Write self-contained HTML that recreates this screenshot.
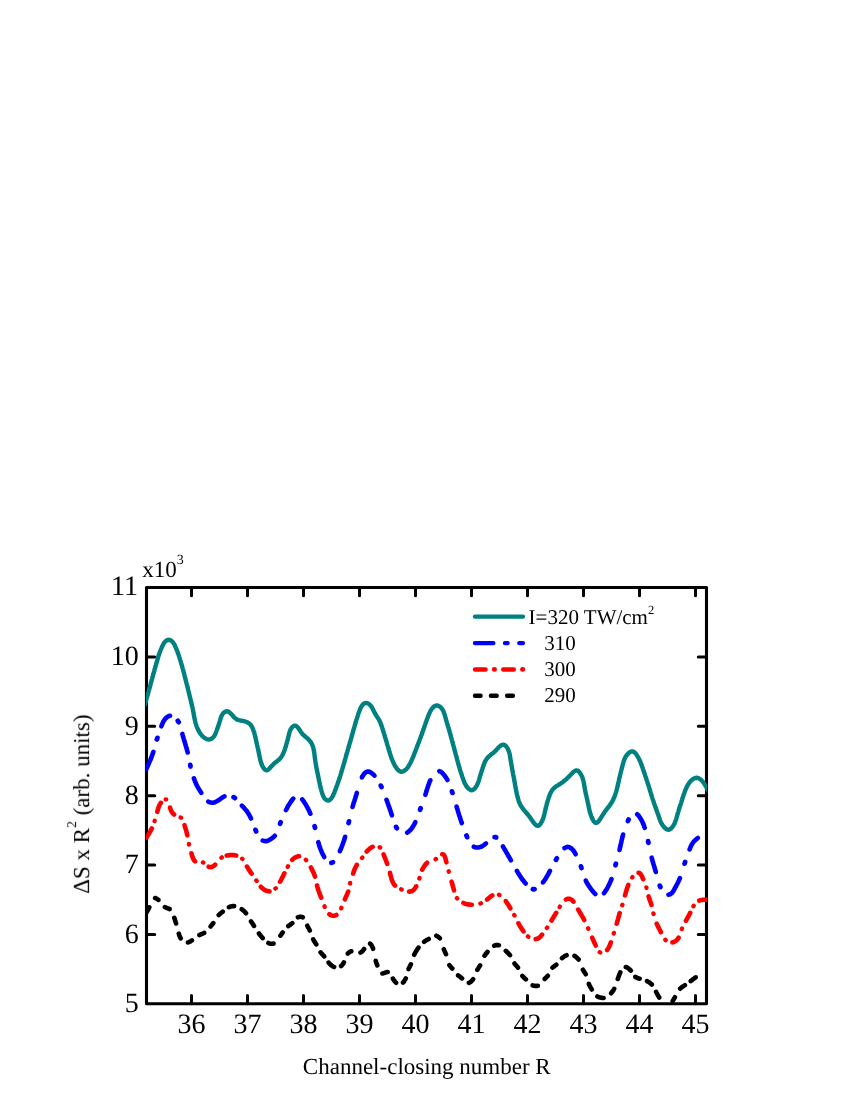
<!DOCTYPE html>
<html><head><meta charset="utf-8"><title>Figure</title>
<style>
html,body{margin:0;padding:0;background:#fff;}
svg{display:block;}
text{font-family:"Liberation Serif",serif;fill:#000;text-rendering:geometricPrecision;}
.txt{opacity:0.999;}
.tk{font-size:28px;}
.ti{font-size:23px;}
.lg{font-size:21px;}
</style></head><body>
<svg width="850" height="1100" viewBox="0 0 850 1100">
<rect x="0" y="0" width="850" height="1100" fill="#ffffff"/>
<defs><clipPath id="cp"><rect x="145.8" y="587.5" width="561.4" height="416.3"/></clipPath></defs>
<path d="M191.5,1003.8v-8.2M191.5,587.5v8.2M247.5,1003.8v-8.2M247.5,587.5v8.2M303.5,1003.8v-8.2M303.5,587.5v8.2M359.5,1003.8v-8.2M359.5,587.5v8.2M415.5,1003.8v-8.2M415.5,587.5v8.2M471.5,1003.8v-8.2M471.5,587.5v8.2M527.5,1003.8v-8.2M527.5,587.5v8.2M583.5,1003.8v-8.2M583.5,587.5v8.2M639.5,1003.8v-8.2M639.5,587.5v8.2M695.5,1003.8v-8.2M695.5,587.5v8.2M146.5,934.42h8.2M706.5,934.42h-8.2M146.5,865.03h8.2M706.5,865.03h-8.2M146.5,795.65h8.2M706.5,795.65h-8.2M146.5,726.27h8.2M706.5,726.27h-8.2M146.5,656.88h8.2M706.5,656.88h-8.2" stroke="#000" stroke-width="3" stroke-linecap="round" fill="none"/>
<rect x="146.5" y="587.5" width="560.0" height="416.3" fill="none" stroke="#000" stroke-width="3.1" stroke-linejoin="round"/>
<g clip-path="url(#cp)" fill="none" stroke-linejoin="round">
<path d="M144.5,705.8L144.8,704.8L145.1,703.9L145.3,702.9L145.6,702.0L145.9,701.0L146.2,700.0L146.4,699.1L146.7,698.1L147.0,697.2L147.3,696.2L147.5,695.2L147.8,694.3L148.1,693.3L148.4,692.3L148.6,691.4L148.9,690.4L149.2,689.4L149.4,688.5L149.7,687.5L150.0,686.6L150.2,685.6L150.5,684.6L150.7,683.7L151.0,682.7L151.3,681.7L151.5,680.8L151.8,679.8L152.1,678.8L152.3,677.9L152.6,676.9L152.9,675.9L153.1,675.0L153.4,674.0L153.6,673.1L153.9,672.1L154.2,671.1L154.4,670.2L154.7,669.2L155.0,668.2L155.3,667.3L155.5,666.3L155.8,665.4L156.1,664.4L156.4,663.4L156.6,662.5L156.9,661.5L157.2,660.5L157.5,659.6L157.7,658.6L158.0,657.7L158.3,656.7L158.6,655.7L158.9,654.8L159.2,653.9L159.6,652.9L159.9,652.0L160.3,651.0L160.6,650.1L161.0,649.2L161.4,648.3L161.8,647.3L162.2,646.4L162.7,645.5L163.1,644.6L163.6,643.7L164.2,642.8L164.8,642.0L165.5,641.3L166.3,640.7L167.1,640.2L168.0,639.9L168.9,639.8L169.8,640.0L170.7,640.3L171.5,640.9L172.3,641.5L172.9,642.3L173.5,643.1L174.1,644.0L174.6,644.9L175.0,645.8L175.4,646.8L175.8,647.7L176.2,648.6L176.6,649.5L177.0,650.5L177.3,651.4L177.7,652.3L178.0,653.3L178.4,654.2L178.7,655.2L179.0,656.1L179.3,657.1L179.6,658.0L179.9,659.0L180.2,659.9L180.5,660.9L180.8,661.8L181.0,662.8L181.3,663.8L181.6,664.7L181.9,665.7L182.2,666.7L182.4,667.6L182.7,668.6L183.0,669.5L183.2,670.5L183.5,671.5L183.8,672.4L184.0,673.4L184.3,674.4L184.5,675.3L184.7,676.3L185.0,677.3L185.2,678.2L185.5,679.2L185.7,680.2L186.0,681.2L186.2,682.1L186.5,683.1L186.7,684.1L187.0,685.0L187.2,686.0L187.5,687.0L187.7,687.9L188.0,688.9L188.2,689.9L188.4,690.8L188.7,691.8L188.9,692.8L189.1,693.8L189.4,694.7L189.6,695.7L189.8,696.7L190.1,697.7L190.3,698.6L190.5,699.6L190.8,700.6L191.0,701.5L191.2,702.5L191.5,703.5L191.7,704.5L191.9,705.4L192.2,706.4L192.4,707.4L192.6,708.4L192.8,709.3L193.0,710.3L193.2,711.3L193.4,712.3L193.5,713.3L193.7,714.3L193.9,715.2L194.1,716.2L194.3,717.2L194.5,718.2L194.7,719.2L194.9,720.1L195.1,721.1L195.3,722.1L195.6,723.1L195.9,724.0L196.2,725.0L196.5,725.9L196.8,726.9L197.2,727.8L197.6,728.7L198.0,729.6L198.5,730.5L198.9,731.4L199.4,732.3L200.0,733.1L200.6,734.0L201.2,734.8L201.9,735.5L202.6,736.3L203.3,737.0L204.1,737.6L205.0,738.2L205.9,738.7L206.8,739.2L207.7,739.4L208.7,739.5L209.6,739.5L210.5,739.2L211.4,738.8L212.3,738.2L213.0,737.5L213.7,736.8L214.3,736.0L214.8,735.1L215.2,734.2L215.6,733.3L216.0,732.3L216.4,731.3L216.7,730.4L217.0,729.4L217.4,728.5L217.7,727.6L218.1,726.6L218.4,725.7L218.7,724.7L219.0,723.8L219.3,722.8L219.6,721.8L219.9,720.9L220.2,719.9L220.5,718.9L220.8,717.9L221.1,716.9L221.5,716.0L222.0,715.1L222.5,714.2L223.1,713.4L223.8,712.7L224.6,712.1L225.4,711.6L226.3,711.3L227.2,711.3L228.0,711.5L228.9,712.0L229.7,712.6L230.5,713.3L231.2,714.0L231.9,714.8L232.6,715.6L233.3,716.3L233.9,717.1L234.7,717.8L235.4,718.4L236.2,719.0L237.1,719.5L238.0,719.9L238.9,720.2L239.9,720.4L240.9,720.6L241.9,720.7L242.9,720.9L243.9,721.1L244.8,721.4L245.8,721.7L246.7,722.1L247.6,722.5L248.5,723.0L249.3,723.6L250.0,724.2L250.7,724.9L251.3,725.7L251.8,726.6L252.3,727.5L252.7,728.4L253.1,729.3L253.4,730.3L253.7,731.3L254.1,732.2L254.3,733.2L254.6,734.2L254.9,735.1L255.1,736.1L255.3,737.1L255.6,738.1L255.8,739.0L256.0,740.0L256.2,741.0L256.4,742.0L256.6,742.9L256.8,743.9L257.1,744.9L257.3,745.9L257.5,746.8L257.7,747.8L258.0,748.8L258.2,749.8L258.4,750.7L258.6,751.7L258.8,752.7L259.0,753.7L259.2,754.6L259.4,755.6L259.6,756.6L259.8,757.6L260.0,758.5L260.2,759.5L260.4,760.5L260.7,761.4L261.0,762.4L261.3,763.4L261.7,764.4L262.1,765.4L262.6,766.4L263.2,767.3L263.8,768.3L264.4,769.1L265.1,769.7L265.8,770.1L266.6,770.3L267.3,770.1L268.1,769.7L268.8,769.1L269.6,768.3L270.3,767.5L271.0,766.7L271.8,765.9L272.5,765.2L273.2,764.5L273.9,763.7L274.6,763.1L275.4,762.4L276.2,761.8L277.0,761.3L277.8,760.6L278.6,760.0L279.3,759.4L280.0,758.6L280.6,757.9L281.2,757.1L281.8,756.2L282.3,755.4L282.7,754.5L283.2,753.6L283.6,752.6L284.0,751.7L284.3,750.8L284.7,749.8L285.0,748.9L285.3,747.9L285.6,747.0L285.9,746.0L286.2,745.1L286.4,744.1L286.7,743.2L287.0,742.2L287.2,741.3L287.5,740.3L287.7,739.3L288.0,738.4L288.2,737.4L288.5,736.4L288.7,735.4L289.0,734.4L289.2,733.3L289.5,732.3L289.8,731.3L290.2,730.4L290.6,729.4L291.1,728.6L291.7,727.8L292.4,727.0L293.1,726.4L293.9,725.9L294.7,725.7L295.6,725.7L296.3,726.1L297.1,726.6L297.8,727.4L298.4,728.2L299.0,729.1L299.6,729.9L300.2,730.8L300.7,731.7L301.3,732.5L301.9,733.3L302.5,734.1L303.2,734.8L303.9,735.5L304.7,736.1L305.5,736.8L306.2,737.4L307.0,738.1L307.8,738.7L308.5,739.4L309.2,740.2L309.8,740.9L310.5,741.7L311.0,742.5L311.5,743.3L311.9,744.2L312.3,745.1L312.7,746.0L313.0,746.9L313.3,747.9L313.5,748.9L313.7,749.8L313.9,750.8L314.1,751.9L314.3,752.9L314.4,753.9L314.5,754.9L314.6,756.0L314.8,757.0L314.9,758.0L315.0,759.0L315.2,760.1L315.3,761.1L315.5,762.1L315.6,763.1L315.8,764.1L316.0,765.0L316.1,766.0L316.3,767.0L316.5,768.0L316.7,768.9L316.9,769.9L317.1,770.9L317.3,771.9L317.5,772.8L317.7,773.8L317.9,774.8L318.1,775.8L318.3,776.8L318.5,777.7L318.7,778.7L318.9,779.7L319.1,780.7L319.3,781.7L319.5,782.6L319.7,783.6L319.9,784.6L320.1,785.6L320.3,786.5L320.6,787.5L320.8,788.5L321.1,789.4L321.3,790.4L321.6,791.4L321.9,792.3L322.2,793.3L322.5,794.3L322.9,795.3L323.3,796.3L323.8,797.2L324.3,798.1L324.9,798.8L325.6,799.5L326.4,800.0L327.3,800.4L328.1,800.5L329.0,800.3L329.8,799.8L330.5,799.2L331.2,798.5L331.8,797.6L332.4,796.8L332.9,795.9L333.3,794.9L333.7,794.0L334.1,793.0L334.5,792.1L334.9,791.1L335.2,790.2L335.6,789.3L335.9,788.3L336.3,787.4L336.6,786.4L337.0,785.5L337.3,784.6L337.6,783.6L338.0,782.7L338.3,781.8L338.6,780.8L338.9,779.9L339.2,778.9L339.6,778.0L339.9,777.0L340.2,776.1L340.5,775.1L340.8,774.1L341.1,773.2L341.4,772.2L341.6,771.3L341.9,770.3L342.2,769.4L342.5,768.4L342.8,767.4L343.1,766.5L343.3,765.5L343.6,764.6L343.9,763.6L344.2,762.6L344.5,761.7L344.7,760.7L345.0,759.8L345.3,758.8L345.6,757.8L345.8,756.9L346.1,755.9L346.4,754.9L346.6,754.0L346.9,753.0L347.2,752.1L347.5,751.1L347.7,750.1L348.0,749.2L348.3,748.2L348.6,747.3L348.8,746.3L349.1,745.3L349.4,744.4L349.7,743.4L349.9,742.4L350.2,741.5L350.5,740.5L350.8,739.6L351.0,738.6L351.3,737.6L351.6,736.7L351.9,735.7L352.1,734.8L352.4,733.8L352.7,732.8L353.0,731.9L353.2,730.9L353.5,729.9L353.8,729.0L354.0,728.0L354.3,727.1L354.6,726.1L354.9,725.1L355.2,724.2L355.4,723.2L355.7,722.3L356.0,721.3L356.3,720.3L356.6,719.4L356.9,718.4L357.2,717.5L357.5,716.5L357.8,715.6L358.1,714.6L358.4,713.7L358.7,712.7L359.1,711.8L359.4,710.8L359.8,709.9L360.2,708.9L360.6,708.0L361.1,707.1L361.6,706.2L362.2,705.4L362.8,704.6L363.6,703.9L364.4,703.4L365.3,703.1L366.2,703.0L367.1,703.1L368.0,703.5L368.8,704.0L369.6,704.6L370.3,705.3L371.0,706.1L371.6,706.9L372.1,707.8L372.6,708.7L373.1,709.6L373.5,710.5L374.0,711.4L374.4,712.3L374.9,713.2L375.4,714.0L375.9,714.9L376.5,715.7L377.0,716.6L377.5,717.4L378.1,718.3L378.6,719.1L379.1,720.0L379.5,720.9L380.0,721.8L380.4,722.7L380.7,723.6L381.1,724.5L381.4,725.5L381.8,726.4L382.1,727.4L382.4,728.3L382.7,729.3L383.0,730.3L383.3,731.2L383.6,732.2L383.9,733.1L384.2,734.1L384.5,735.0L384.8,736.0L385.0,737.0L385.3,737.9L385.6,738.9L385.9,739.8L386.2,740.8L386.5,741.7L386.8,742.7L387.0,743.7L387.3,744.6L387.6,745.6L387.9,746.5L388.2,747.5L388.5,748.5L388.7,749.4L389.0,750.4L389.3,751.3L389.6,752.3L389.9,753.2L390.2,754.2L390.5,755.1L390.8,756.1L391.2,757.0L391.5,758.0L391.8,758.9L392.2,759.9L392.6,760.8L393.0,761.7L393.4,762.6L393.8,763.5L394.2,764.4L394.7,765.3L395.2,766.2L395.8,767.1L396.4,767.9L397.0,768.8L397.7,769.5L398.4,770.3L399.2,770.9L400.0,771.4L400.9,771.7L401.8,771.7L402.7,771.6L403.6,771.2L404.4,770.7L405.2,770.1L406.0,769.4L406.7,768.7L407.4,767.9L408.0,767.1L408.5,766.2L409.1,765.3L409.6,764.4L410.1,763.5L410.5,762.7L411.0,761.8L411.4,760.8L411.8,759.9L412.2,759.0L412.6,758.1L413.0,757.2L413.4,756.3L413.7,755.3L414.1,754.4L414.5,753.5L414.8,752.5L415.2,751.6L415.6,750.7L415.9,749.7L416.3,748.8L416.6,747.9L417.0,746.9L417.3,746.0L417.7,745.1L418.0,744.1L418.4,743.2L418.8,742.3L419.1,741.3L419.5,740.4L419.8,739.5L420.2,738.5L420.5,737.6L420.9,736.6L421.2,735.7L421.6,734.8L421.9,733.8L422.2,732.9L422.6,731.9L422.9,731.0L423.2,730.1L423.6,729.1L423.9,728.2L424.2,727.2L424.5,726.3L424.9,725.3L425.2,724.4L425.5,723.4L425.9,722.5L426.2,721.6L426.5,720.6L426.9,719.7L427.2,718.8L427.6,717.8L427.9,716.9L428.3,715.9L428.6,715.0L429.0,714.1L429.4,713.1L429.9,712.2L430.3,711.3L430.8,710.4L431.4,709.5L432.0,708.7L432.6,707.9L433.3,707.2L434.1,706.5L435.0,706.0L435.8,705.6L436.7,705.5L437.6,705.5L438.5,705.8L439.4,706.3L440.2,706.9L441.0,707.6L441.6,708.4L442.3,709.2L442.8,710.1L443.3,711.0L443.7,711.9L444.0,712.9L444.4,713.8L444.7,714.8L445.0,715.8L445.2,716.8L445.5,717.7L445.8,718.7L446.0,719.7L446.3,720.6L446.6,721.6L446.9,722.6L447.2,723.5L447.5,724.5L447.7,725.4L448.0,726.4L448.3,727.3L448.6,728.3L448.9,729.2L449.2,730.2L449.4,731.2L449.7,732.1L450.0,733.1L450.3,734.0L450.5,735.0L450.8,736.0L451.0,736.9L451.3,737.9L451.6,738.9L451.8,739.8L452.1,740.8L452.4,741.8L452.6,742.7L452.9,743.7L453.1,744.7L453.4,745.6L453.7,746.6L453.9,747.6L454.2,748.5L454.4,749.5L454.7,750.5L455.0,751.4L455.2,752.4L455.5,753.4L455.7,754.3L456.0,755.3L456.3,756.3L456.5,757.2L456.8,758.2L457.0,759.2L457.3,760.1L457.6,761.1L457.8,762.1L458.1,763.0L458.3,764.0L458.6,764.9L458.9,765.9L459.2,766.9L459.5,767.8L459.7,768.8L460.0,769.7L460.3,770.7L460.6,771.6L460.9,772.6L461.3,773.5L461.6,774.5L461.9,775.4L462.2,776.4L462.5,777.3L462.9,778.3L463.2,779.2L463.5,780.2L463.9,781.1L464.2,782.1L464.6,783.0L465.1,783.9L465.6,784.8L466.1,785.7L466.7,786.6L467.3,787.4L468.1,788.2L468.8,788.9L469.7,789.5L470.5,790.0L471.3,790.2L472.2,790.2L473.0,789.9L473.8,789.4L474.5,788.8L475.2,788.0L475.8,787.1L476.4,786.2L476.9,785.3L477.4,784.3L477.8,783.4L478.1,782.5L478.5,781.5L478.8,780.6L479.1,779.6L479.4,778.6L479.6,777.7L479.9,776.7L480.2,775.8L480.5,774.8L480.8,773.9L481.1,772.9L481.4,771.9L481.7,771.0L482.0,770.0L482.3,769.1L482.6,768.1L482.9,767.2L483.3,766.2L483.6,765.3L483.9,764.3L484.3,763.4L484.7,762.4L485.1,761.5L485.6,760.7L486.1,759.8L486.6,759.0L487.2,758.2L487.9,757.4L488.6,756.7L489.3,756.1L490.1,755.4L490.9,754.8L491.6,754.1L492.4,753.5L493.2,752.9L494.0,752.3L494.7,751.6L495.5,750.9L496.1,750.2L496.8,749.4L497.5,748.6L498.2,747.9L498.9,747.1L499.7,746.4L500.5,745.8L501.4,745.2L502.2,744.9L503.1,744.7L503.9,744.8L504.7,745.1L505.5,745.7L506.2,746.4L506.8,747.3L507.4,748.1L507.9,749.1L508.3,750.0L508.7,751.0L509.0,751.9L509.3,752.9L509.6,753.9L509.8,754.9L510.0,755.9L510.1,756.9L510.3,757.9L510.4,758.9L510.6,759.9L510.8,760.9L510.9,761.9L511.1,762.8L511.3,763.8L511.4,764.8L511.6,765.8L511.8,766.8L512.0,767.8L512.1,768.7L512.3,769.7L512.5,770.7L512.7,771.7L512.9,772.7L513.0,773.6L513.2,774.6L513.4,775.6L513.6,776.6L513.8,777.6L514.0,778.6L514.1,779.5L514.3,780.5L514.5,781.5L514.7,782.5L514.9,783.5L515.0,784.5L515.2,785.4L515.4,786.4L515.6,787.4L515.7,788.4L515.9,789.4L516.1,790.4L516.3,791.3L516.5,792.3L516.7,793.3L516.9,794.3L517.1,795.3L517.4,796.2L517.6,797.2L517.9,798.2L518.2,799.2L518.5,800.1L518.8,801.1L519.1,802.0L519.5,802.9L519.9,803.8L520.3,804.7L520.8,805.6L521.3,806.5L521.9,807.3L522.5,808.1L523.1,808.9L523.7,809.7L524.3,810.5L525.0,811.2L525.6,812.0L526.3,812.8L526.9,813.5L527.6,814.3L528.2,815.0L528.8,815.8L529.4,816.6L530.0,817.4L530.6,818.2L531.1,819.0L531.7,819.9L532.3,820.8L533.0,821.7L533.6,822.6L534.3,823.5L535.1,824.3L535.8,825.0L536.5,825.5L537.3,825.8L538.0,825.9L538.7,825.6L539.4,825.1L540.1,824.4L540.7,823.5L541.3,822.6L541.8,821.6L542.3,820.6L542.7,819.6L543.1,818.6L543.4,817.7L543.7,816.7L544.0,815.7L544.2,814.8L544.5,813.8L544.7,812.8L544.9,811.9L545.1,810.9L545.3,810.0L545.5,809.0L545.8,808.0L546.0,807.1L546.3,806.1L546.5,805.2L546.8,804.2L547.0,803.2L547.3,802.3L547.6,801.3L547.9,800.3L548.2,799.4L548.5,798.4L548.8,797.4L549.2,796.5L549.5,795.5L549.9,794.5L550.3,793.6L550.7,792.7L551.2,791.8L551.7,790.9L552.2,790.1L552.8,789.3L553.5,788.6L554.2,788.0L554.9,787.3L555.7,786.7L556.6,786.2L557.4,785.6L558.3,785.1L559.1,784.5L560.0,784.0L560.8,783.4L561.6,782.8L562.4,782.3L563.2,781.7L564.0,781.0L564.8,780.4L565.5,779.8L566.3,779.2L567.0,778.5L567.7,777.8L568.4,777.1L569.2,776.4L569.9,775.6L570.7,774.8L571.4,774.0L572.2,773.2L573.0,772.4L573.8,771.7L574.6,771.1L575.4,770.7L576.2,770.5L577.0,770.5L577.7,770.7L578.5,771.2L579.2,771.9L579.8,772.7L580.4,773.6L581.0,774.6L581.5,775.6L582.0,776.5L582.4,777.5L582.7,778.5L583.0,779.5L583.3,780.4L583.5,781.4L583.7,782.4L583.9,783.4L584.1,784.3L584.2,785.3L584.4,786.3L584.6,787.3L584.7,788.3L584.9,789.2L585.1,790.2L585.3,791.2L585.5,792.2L585.7,793.2L585.9,794.2L586.2,795.1L586.4,796.1L586.6,797.1L586.8,798.1L587.1,799.1L587.3,800.0L587.5,801.0L587.7,802.0L587.9,802.9L588.1,803.9L588.3,804.8L588.5,805.8L588.7,806.7L588.9,807.7L589.1,808.6L589.3,809.6L589.5,810.5L589.7,811.5L590.0,812.4L590.3,813.4L590.6,814.4L591.0,815.4L591.4,816.5L591.8,817.5L592.3,818.6L592.9,819.7L593.4,820.6L594.0,821.5L594.7,822.2L595.3,822.7L596.0,822.9L596.7,822.8L597.4,822.5L598.0,821.9L598.7,821.1L599.3,820.2L600.0,819.3L600.6,818.3L601.2,817.4L601.8,816.5L602.3,815.6L602.9,814.7L603.4,813.9L604.0,813.1L604.5,812.2L605.1,811.4L605.7,810.7L606.2,809.9L606.8,809.1L607.4,808.3L608.1,807.5L608.7,806.7L609.3,805.9L609.9,805.1L610.4,804.3L611.0,803.5L611.5,802.6L612.1,801.7L612.5,800.9L613.0,800.0L613.4,799.1L613.8,798.2L614.2,797.2L614.6,796.3L615.0,795.4L615.3,794.4L615.6,793.5L615.9,792.5L616.2,791.6L616.5,790.6L616.7,789.6L617.0,788.7L617.2,787.7L617.5,786.7L617.7,785.7L617.9,784.8L618.1,783.8L618.3,782.8L618.6,781.8L618.8,780.9L619.0,779.9L619.2,778.9L619.4,777.9L619.7,777.0L619.9,776.0L620.1,775.0L620.4,774.1L620.6,773.1L620.8,772.1L621.1,771.1L621.3,770.2L621.6,769.2L621.8,768.2L622.1,767.3L622.3,766.3L622.6,765.3L622.8,764.3L623.1,763.4L623.4,762.4L623.7,761.4L624.0,760.5L624.3,759.5L624.7,758.6L625.2,757.7L625.6,756.8L626.2,755.9L626.8,755.1L627.5,754.2L628.2,753.4L629.1,752.7L629.9,752.1L630.7,751.7L631.6,751.5L632.4,751.4L633.3,751.6L634.0,752.0L634.8,752.6L635.5,753.4L636.2,754.2L636.8,755.1L637.4,756.1L638.0,757.0L638.5,758.0L639.0,758.9L639.4,759.9L639.9,760.8L640.3,761.7L640.7,762.6L641.0,763.6L641.4,764.5L641.7,765.4L642.0,766.3L642.4,767.2L642.7,768.1L643.0,769.1L643.3,770.0L643.6,770.9L644.0,771.9L644.3,772.8L644.6,773.7L644.9,774.7L645.2,775.6L645.5,776.6L645.9,777.5L646.2,778.5L646.5,779.5L646.8,780.4L647.1,781.4L647.4,782.3L647.7,783.3L648.1,784.2L648.4,785.2L648.7,786.2L649.0,787.1L649.3,788.1L649.6,789.0L649.9,790.0L650.1,791.0L650.4,791.9L650.7,792.9L651.0,793.8L651.3,794.8L651.6,795.7L651.9,796.7L652.2,797.6L652.5,798.6L652.8,799.5L653.2,800.5L653.5,801.4L653.8,802.4L654.1,803.3L654.4,804.2L654.8,805.2L655.1,806.1L655.4,807.1L655.8,808.0L656.1,808.9L656.4,809.9L656.8,810.8L657.1,811.8L657.4,812.7L657.8,813.7L658.1,814.6L658.5,815.6L658.8,816.5L659.1,817.5L659.4,818.4L659.8,819.4L660.1,820.3L660.5,821.3L660.9,822.2L661.4,823.1L661.9,824.0L662.4,824.9L663.0,825.7L663.6,826.6L664.3,827.3L665.0,828.1L665.8,828.7L666.7,829.3L667.5,829.6L668.4,829.7L669.2,829.6L670.0,829.2L670.8,828.7L671.6,827.9L672.3,827.1L672.9,826.3L673.5,825.4L674.0,824.5L674.5,823.6L674.9,822.6L675.3,821.7L675.6,820.7L676.0,819.8L676.3,818.8L676.5,817.9L676.8,816.9L677.1,815.9L677.3,815.0L677.6,814.0L677.9,813.0L678.2,812.1L678.5,811.1L678.7,810.2L679.0,809.2L679.3,808.3L679.6,807.3L679.9,806.4L680.3,805.4L680.6,804.5L680.9,803.5L681.2,802.6L681.5,801.6L681.8,800.6L682.1,799.7L682.4,798.7L682.7,797.8L683.0,796.8L683.3,795.9L683.6,794.9L683.9,794.0L684.3,793.0L684.6,792.1L685.0,791.2L685.3,790.2L685.7,789.3L686.1,788.4L686.5,787.5L687.0,786.6L687.4,785.7L687.9,784.8L688.5,783.9L689.0,783.1L689.6,782.3L690.3,781.5L691.0,780.7L691.8,780.0L692.6,779.4L693.4,778.8L694.3,778.3L695.2,778.0L696.2,777.8L697.1,777.8L698.0,778.0L698.9,778.3L699.8,778.8L700.6,779.5L701.4,780.1L702.1,780.9L702.8,781.7L703.4,782.5L704.0,783.3L704.5,784.2L705.1,785.0L705.6,785.9L706.1,786.8L706.6,787.6L707.1,788.5L707.6,789.4L708.1,790.2L708.6,791.1L709.0,791.8" stroke="#008080" stroke-width="4.4" stroke-linecap="butt"/>
<path d="M146.5,768.8L146.7,768.3L147.1,767.4L147.5,766.5L147.9,765.6L148.3,764.7L148.7,763.8L149.1,762.8L149.5,761.9L149.9,761.0L150.3,760.1L150.7,759.1L151.1,758.2L151.4,757.3L151.8,756.4L152.1,755.4L152.5,754.5L152.8,753.5L153.1,752.6L153.4,751.8M161.4,726.3L161.5,725.9L161.9,724.9L162.3,724.0L162.7,723.0L163.1,722.1L163.6,721.2L164.1,720.4L164.7,719.5L165.4,718.7L166.1,718.0L166.8,717.3L167.6,716.7L168.5,716.2L169.3,715.9L170.0,715.8M182.4,733.9L182.5,734.3L182.7,735.3L183.0,736.3L183.2,737.2L183.5,738.2L183.8,739.2L184.1,740.1L184.4,741.1L184.7,742.0L185.0,743.0L185.3,743.9L185.5,744.9L185.8,745.9L186.1,746.8L186.4,747.8L186.7,748.7L186.9,749.7L187.2,750.7L187.5,751.6L187.7,752.5M193.9,778.4L194.1,778.8L194.4,779.7L194.8,780.7L195.2,781.6L195.5,782.5L195.9,783.5L196.3,784.4L196.8,785.3L197.2,786.1L197.7,787.0L198.2,787.9L198.7,788.7L199.2,789.6L199.7,790.4L200.3,791.3L200.8,792.1L201.3,792.9M208.3,801.6L208.7,801.8L209.6,802.2L210.6,802.4L211.6,802.6L212.5,802.7L213.5,802.6L214.5,802.4L215.4,802.0L216.3,801.6L217.2,801.1L218.1,800.6L218.9,800.0L219.8,799.4L220.6,798.8L221.5,798.2L222.3,797.6L223.2,797.1L224.1,796.6L224.4,796.4M241.9,805.6L242.2,805.9L242.9,806.7L243.6,807.4L244.2,808.1L244.9,808.9L245.5,809.6L246.2,810.4L246.8,811.2L247.4,812.0L247.9,812.8L248.5,813.7L249.0,814.5L249.5,815.4L249.9,816.3L250.4,817.2L250.8,818.1L251.0,818.5M262.7,840.5L263.0,840.6L264.0,840.9L264.9,841.1L265.9,841.1L266.9,841.0L267.8,840.7L268.7,840.3L269.6,839.8L270.5,839.3L271.4,838.7L272.2,838.1L273.0,837.4L273.8,836.8L274.5,836.1L274.8,835.8M286.0,810.0L286.2,809.7L286.7,808.8L287.2,807.9L287.6,807.0L288.1,806.1L288.6,805.2L289.2,804.4L289.7,803.5L290.2,802.6L290.8,801.8L291.4,801.0L292.0,800.2L292.6,799.3L293.2,798.6M302.2,799.3L302.2,799.3L302.8,800.2L303.5,801.0L304.0,801.9L304.6,802.8L305.2,803.6L305.7,804.5L306.2,805.4L306.7,806.2L307.2,807.1L307.7,808.0L308.1,808.9L308.6,809.7L309.0,810.6L309.4,811.5L309.8,812.4L310.2,813.3L310.4,813.7M318.3,842.2L318.4,842.6L318.7,843.5L319.0,844.5L319.2,845.4L319.5,846.3L319.8,847.2L320.2,848.2L320.5,849.1L320.9,850.0L321.3,850.9L321.7,851.9L322.1,852.8L322.5,853.7L323.0,854.7L323.5,855.6L324.0,856.5L324.2,857.0M339.9,851.2L339.9,851.2L340.3,850.2L340.7,849.2L341.1,848.3L341.5,847.3L341.8,846.4L342.2,845.5L342.5,844.5L342.9,843.6L343.2,842.7L343.5,841.8L343.9,840.8L344.2,839.9L344.5,839.0L344.8,838.1L345.0,837.2L345.1,836.8M352.5,807.0L352.6,806.6L352.9,805.7L353.2,804.7L353.5,803.7L353.8,802.8L354.1,801.8L354.4,800.9L354.7,799.9L355.0,798.9L355.3,798.0L355.6,797.0L355.9,796.1L356.2,795.1L356.5,794.2L356.7,793.2L356.8,792.9M361.9,777.4L361.9,777.3L362.5,776.3L363.0,775.4L363.7,774.5L364.3,773.6L365.0,772.9L365.8,772.3L366.5,771.9L367.3,771.6L368.1,771.5L369.0,771.6L369.8,771.9L370.7,772.4L371.5,772.9L372.3,773.6L373.2,774.3L374.0,775.1L374.4,775.6M386.5,799.9L386.7,800.3L387.0,801.2L387.4,802.2L387.7,803.1L388.1,804.0L388.4,805.0L388.7,805.9L389.1,806.9L389.4,807.8L389.7,808.8L390.1,809.7L390.4,810.7L390.7,811.6L391.0,812.5L391.3,813.5L391.6,814.4L391.9,815.3M407.2,832.6L407.5,832.4L408.3,831.9L409.0,831.3L409.8,830.6L410.5,829.9L411.2,829.1L411.8,828.3L412.4,827.4L413.0,826.5L413.5,825.6L414.1,824.6L414.6,823.7L415.1,822.7L415.3,822.2M425.4,794.8L425.5,794.4L425.8,793.5L426.0,792.6L426.3,791.6L426.6,790.7L426.9,789.8L427.2,788.8L427.5,787.9L427.8,787.0L428.1,786.0L428.4,785.1L428.8,784.1L429.1,783.2L429.5,782.2L429.9,781.2L430.4,780.3L430.4,780.2M439.4,771.2L439.5,771.3L440.4,771.5L441.2,772.0L442.0,772.6L442.7,773.4L443.4,774.2L444.1,775.0L444.7,775.8L445.3,776.7L445.9,777.5L446.5,778.4L447.0,779.2L447.4,780.0M456.6,806.6L456.7,807.0L457.0,808.0L457.3,808.9L457.6,809.9L457.9,810.9L458.2,811.8L458.5,812.8L458.7,813.7L459.0,814.7L459.3,815.6L459.7,816.6L460.0,817.6L460.3,818.5L460.6,819.4L460.9,820.4L461.2,821.3L461.5,822.3L461.8,823.1M473.8,846.7L474.1,846.8L475.0,847.2L476.0,847.4L477.0,847.5L478.0,847.5L479.0,847.4L479.9,847.1L480.9,846.8L481.8,846.4L482.7,845.9L483.5,845.4L484.3,844.8L485.1,844.1L485.9,843.5L485.9,843.5M503.0,846.5L503.1,846.6L503.6,847.6L504.1,848.5L504.6,849.4L505.2,850.3L505.7,851.2L506.2,852.1L506.7,852.9L507.2,853.8L507.7,854.6L508.1,855.4L508.6,856.3L509.1,857.1L509.6,857.9L510.0,858.7L510.5,859.6L510.9,860.3M516.9,870.9L517.1,871.2L517.6,872.1L518.1,872.9L518.6,873.8L519.1,874.6L519.6,875.4L520.2,876.2L520.7,877.1L521.3,877.9L521.8,878.7L522.4,879.5L523.0,880.3L523.7,881.1L524.3,881.9L525.0,882.7L525.7,883.5L525.7,883.5M542.9,882.4L543.0,882.4L543.6,881.6L544.2,880.7L544.8,879.9L545.4,879.0L545.9,878.2L546.4,877.3L546.9,876.5L547.4,875.6L547.9,874.8L548.4,873.9L548.8,873.1L549.3,872.2L549.7,871.3L549.9,871.0M564.5,848.1L564.9,847.9L565.8,847.4L566.7,847.1L567.6,846.9L568.5,847.0L569.4,847.2L570.3,847.7L571.1,848.2L571.9,848.9L572.6,849.6L573.3,850.4L573.9,851.3L574.4,852.1L575.0,853.0L575.4,853.9L575.6,854.3M585.8,880.5L585.9,880.9L586.4,881.8L586.8,882.7L587.3,883.5L587.8,884.4L588.4,885.2L588.9,886.1L589.5,886.9L590.1,887.7L590.7,888.6L591.3,889.4L591.9,890.2L592.6,891.0L593.2,891.8L593.9,892.6L594.6,893.3L595.3,894.1M604.0,893.2L604.3,892.8L604.9,891.9L605.5,891.0L606.0,890.1L606.6,889.3L607.1,888.4L607.6,887.5L608.1,886.6L608.5,885.7L609.0,884.8L609.4,884.0L609.8,883.0L610.2,882.1L610.6,881.2L611.0,880.3L611.4,879.4L611.5,879.0M619.5,849.9L619.6,849.5L619.8,848.5L620.0,847.5L620.3,846.5L620.5,845.6L620.7,844.6L620.9,843.6L621.2,842.6L621.4,841.6L621.6,840.6L621.8,839.7L622.1,838.7L622.3,837.7L622.5,836.8L622.7,835.8L623.0,834.9L623.1,834.5M637.2,814.3L637.4,814.5L638.1,815.2L638.8,815.9L639.4,816.8L640.1,817.7L640.6,818.7L641.2,819.6L641.7,820.5L642.2,821.4L642.6,822.4L643.0,823.3L643.4,824.2L643.8,825.1L644.1,826.0L644.4,827.0L644.7,827.8M651.7,857.7L651.8,858.1L652.0,859.0L652.3,860.0L652.6,861.0L652.9,861.9L653.1,862.9L653.4,863.9L653.7,864.8L654.0,865.8L654.3,866.7L654.6,867.7L654.8,868.7L655.1,869.6L655.4,870.6L655.7,871.5L655.8,871.9M668.5,894.7L668.7,894.6L669.6,894.5L670.4,894.1L671.2,893.6L671.9,893.0L672.5,892.2L673.2,891.3L673.7,890.4L674.3,889.4L674.8,888.4L675.3,887.5L675.9,886.5L676.3,885.6L676.8,884.7L677.3,883.8L677.7,882.9L678.2,882.0L678.6,881.1L679.0,880.2L679.4,879.3L679.8,878.4L679.9,878.1M689.6,849.5L689.7,849.1L690.1,848.2L690.5,847.2L690.9,846.3L691.3,845.4L691.8,844.5L692.3,843.7L692.8,842.9L693.4,842.1L694.1,841.3L694.8,840.6L695.5,839.9L696.3,839.3L697.0,838.6L697.8,838.0" stroke="#0000ff" stroke-width="4.6" stroke-linecap="round"/>
<path d="M156.9,739.4L157.0,739.2L157.3,738.2L157.4,737.9M177.8,720.8L177.9,721.0L178.5,721.9L178.7,722.1M190.2,765.0L190.2,765.3L190.5,766.3L190.5,766.6M233.6,797.1L233.9,797.2L234.7,797.8L234.9,798.0M255.5,829.9L255.6,830.2L256.0,831.2L256.1,831.4M280.1,823.7L280.2,823.4L280.5,822.5L280.6,822.2M314.6,826.3L314.7,826.6L314.9,827.5L315.0,827.8M331.4,862.9L331.7,862.8L332.6,862.4L332.9,862.2M348.6,823.0L348.7,822.7L348.9,821.7L349.0,821.4M380.8,785.6L380.9,785.9L381.4,786.7L381.5,787.0M396.1,826.9L396.2,827.1L396.7,828.1L396.8,828.3M420.1,809.7L420.2,809.4L420.5,808.5L420.6,808.2M452.0,791.4L452.1,791.7L452.4,792.6L452.5,792.9M466.5,835.6L466.6,835.8L467.0,836.8L467.1,837.1M494.6,837.2L494.7,837.2L495.4,837.2L496.2,837.4L496.2,837.5M532.9,889.2L533.3,889.3L534.1,889.3L534.5,889.2M556.0,859.8L556.2,859.5L556.6,858.6L556.8,858.4M581.0,866.4L581.1,866.7L581.4,867.7L581.5,868.0M615.5,865.3L615.5,865.0L615.8,864.0L615.9,863.7M627.9,821.0L628.0,820.8L628.5,819.8L628.6,819.6M648.1,841.2L648.1,841.4L648.3,842.4L648.4,842.7M659.8,885.7L659.9,885.9L660.3,886.9L660.4,887.1M684.6,863.6L684.7,863.3L685.0,862.3L685.1,862.0" stroke="#0000ff" stroke-width="4.8" stroke-linecap="round"/>
<path d="M146.5,837.5L146.8,837.1L147.3,836.2L147.8,835.4L148.4,834.5L148.9,833.7L149.4,832.8L149.9,831.9L150.4,831.1L150.9,830.2L151.3,829.3L151.8,828.4M157.3,811.8L157.3,811.8L157.5,810.8L157.8,809.8L158.1,808.9L158.4,807.9L158.7,806.9L159.1,806.0L159.5,805.1L160.0,804.2L160.6,803.3L160.9,802.8M170.0,807.6L170.0,807.8L170.4,808.9L170.8,809.9L171.2,810.9L171.7,811.8L172.2,812.6L172.8,813.4L173.5,814.1L174.1,814.6M184.5,825.2L184.5,825.2L184.8,826.2L185.1,827.2L185.4,828.1L185.7,829.1L186.0,830.1L186.3,831.0L186.5,832.0L186.8,832.9L187.0,833.9L187.2,834.9L187.3,835.3M191.4,853.3L191.4,853.4L191.7,854.3L192.0,855.3L192.3,856.3L192.6,857.2L193.0,858.2L193.4,859.1L193.9,860.0L194.5,860.8L195.1,861.4M208.7,866.7L209.1,866.9L210.0,867.1L211.0,867.1L211.9,866.9L212.7,866.6L213.6,866.1L214.4,865.4L215.1,864.7L215.2,864.6M226.7,855.6L226.7,855.6L227.7,855.4L228.7,855.2L229.7,855.1L230.7,855.0L231.7,855.0L232.7,855.0L233.7,855.1L234.7,855.3L235.7,855.5L236.2,855.6M247.0,866.6L247.0,866.6L247.5,867.5L248.0,868.3L248.5,869.2L249.1,870.0L249.6,870.8L250.2,871.7L250.7,872.5L251.3,873.3L251.6,873.7M260.8,886.8L260.8,886.8L261.5,887.5L262.3,888.2L263.1,888.8L263.9,889.4L264.8,889.9L265.7,890.4L266.6,890.8L267.6,891.1L268.6,891.3L269.5,891.4M280.1,881.7L280.1,881.7L280.6,880.8L281.0,880.0L281.5,879.1L282.0,878.2L282.4,877.3L282.9,876.4L283.3,875.5L283.7,874.6L284.2,873.7L284.4,873.3M292.2,859.8L292.2,859.8L292.9,859.1L293.7,858.5L294.5,857.9L295.3,857.3L296.3,856.9L297.2,856.6L298.2,856.3L299.1,856.2M310.9,867.5L310.9,867.5L311.4,868.4L311.9,869.3L312.3,870.2L312.8,871.1L313.2,872.0L313.6,872.9L314.0,873.8L314.4,874.8L314.7,875.7L315.0,876.6M317.0,885.4L317.0,885.4L317.2,886.4L317.5,887.4L317.8,888.3L318.1,889.3L318.4,890.2L318.7,891.2L319.1,892.1L319.4,893.1L319.7,894.0L320.1,894.9L320.5,895.9L320.8,896.8L321.2,897.7M329.4,914.2L329.4,914.2L330.2,914.8L331.1,915.2L332.1,915.6L333.0,915.7L334.0,915.7L335.0,915.5L335.9,915.2L336.4,915.0M344.9,899.3L345.1,898.8L345.5,897.9L345.9,897.0L346.3,896.1L346.7,895.2L347.1,894.3L347.5,893.3L347.9,892.4L348.2,891.5M353.0,873.6L353.1,873.6L353.4,872.7L353.7,871.7L354.1,870.8L354.4,869.8L354.8,868.9L355.2,868.0L355.7,867.1L356.1,866.2L356.6,865.3L356.8,864.9M366.7,851.6L366.7,851.6L367.4,850.8L368.1,850.1L368.8,849.4L369.6,848.7L370.4,848.1L371.2,847.6L372.1,847.1L372.6,846.8M383.6,854.5L383.6,854.5L384.0,855.5L384.4,856.4L384.7,857.4L385.1,858.3L385.5,859.2L385.8,860.2L386.2,861.1L386.5,862.0L386.9,862.9L387.2,863.9M390.0,872.9L390.0,873.0L390.2,874.0L390.5,875.0L390.8,876.1L391.0,877.1L391.3,878.1L391.6,879.1L391.9,880.1L392.3,881.0L392.7,881.9L393.1,882.8L393.6,883.7L394.1,884.5L394.7,885.2L395.0,885.5M409.1,891.6L409.6,891.6L410.5,891.5L411.4,891.3L412.3,890.9L413.1,890.3L413.8,889.7L414.5,888.9L415.2,888.1L415.7,887.2L416.3,886.3L416.3,886.2M422.2,869.7L422.4,869.3L422.9,868.4L423.4,867.5L423.9,866.7L424.5,865.8L425.1,865.0L425.7,864.2L426.4,863.5L427.1,862.8M442.2,854.2L442.3,854.2L443.0,854.3L443.6,854.7L444.1,855.3L444.6,856.0L445.0,857.0L445.3,858.0L445.6,859.1L445.9,860.3L446.2,861.5L446.4,862.3M451.6,881.7L451.6,881.7L451.9,882.6L452.2,883.6L452.4,884.6L452.7,885.5L453.0,886.5L453.2,887.4L453.5,888.4L453.8,889.4L454.0,890.3L454.0,890.4M463.4,903.0L463.4,903.0L464.3,903.4L465.3,903.7L466.3,904.0L467.2,904.2L468.2,904.4L469.2,904.5L470.2,904.6L471.3,904.7L471.8,904.7M487.1,899.5L487.1,899.5L487.9,898.9L488.7,898.2L489.4,897.5L490.2,896.9L491.0,896.3L491.9,895.7L492.3,895.5M505.7,901.1L505.8,901.1L506.4,902.0L506.9,902.8L507.5,903.6L508.1,904.5L508.6,905.3L509.1,906.1L509.6,907.0L510.2,907.8L510.4,908.3M518.4,923.3L518.6,923.7L519.1,924.6L519.6,925.4L520.1,926.3L520.7,927.1L521.2,928.0L521.8,928.8L522.3,929.7L522.9,930.5L523.5,931.3L523.5,931.3M535.7,939.1L536.1,939.0L537.1,938.8L537.9,938.5L538.8,938.0L539.5,937.4L540.3,936.7L541.0,935.9L541.6,935.1L542.0,934.7M551.5,920.6L551.5,920.6L552.0,919.7L552.5,918.8L553.0,918.0L553.6,917.1L554.1,916.3L554.6,915.4L555.1,914.6L555.6,913.7L556.2,912.9M565.9,899.5L565.9,899.5L566.8,899.1L567.7,898.8L568.6,898.7L569.5,898.8L570.4,899.1L571.2,899.6L572.1,900.2L572.8,900.9L573.5,901.7L573.6,901.7M578.2,909.6L578.5,910.0L578.9,910.9L579.4,911.7L579.9,912.6L580.5,913.5L581.0,914.3L581.5,915.2L582.0,916.1L582.5,916.9L583.0,917.8L583.5,918.6L584.0,919.5L584.2,920.0M592.2,937.7L592.4,938.2L592.8,939.1L593.2,940.0L593.6,940.9L594.0,941.8L594.4,942.7L594.8,943.6L595.3,944.5L595.7,945.5L595.7,945.5M607.0,950.1L607.0,950.0L607.7,949.2L608.2,948.4L608.7,947.5L609.2,946.6L609.6,945.7L610.0,944.7L610.4,943.8L610.7,942.8L610.9,942.3M616.7,923.7L616.7,923.7L617.0,922.7L617.3,921.7L617.5,920.8L617.8,919.8L618.1,918.8L618.3,917.9L618.6,916.9L618.9,916.0L619.1,915.0L619.4,914.0L619.7,913.1M625.0,895.4L625.0,895.4L625.3,894.4L625.6,893.4L625.8,892.4L626.1,891.5L626.4,890.5L626.7,889.6L627.0,888.6L627.3,887.7L627.7,886.7L628.0,885.8L628.3,884.9M638.5,872.7L638.8,872.7L639.5,873.1L640.2,873.6L640.8,874.3L641.3,875.1L641.8,876.0L642.3,877.0L642.7,878.1L643.1,879.1L643.2,879.2M648.6,896.4L648.6,896.4L648.9,897.4L649.2,898.3L649.5,899.3L649.8,900.2L650.2,901.2L650.5,902.1L650.9,903.0L651.2,904.0L651.5,904.9M656.7,923.7L656.9,924.1L657.3,925.0L657.7,925.9L658.2,926.8L658.6,927.7L659.1,928.6L659.6,929.5L660.0,930.4L660.5,931.3L660.9,932.2L660.9,932.2M672.4,942.4L672.8,942.4L673.8,942.1L674.7,941.6L675.5,941.1L676.3,940.5L677.0,939.8L677.7,939.0L678.3,938.2L678.6,937.7M685.9,920.7L685.9,920.7L686.4,919.9L686.9,919.0L687.4,918.1L687.9,917.2L688.4,916.4L688.8,915.5L689.3,914.6L689.8,913.7L690.2,912.8M699.2,900.6L699.7,900.5L700.6,900.2L701.6,900.0L702.6,899.9L703.6,899.8L704.6,899.7L705.6,899.7L706.5,899.7" stroke="#ff0000" stroke-width="4.6" stroke-linecap="round"/>
<path d="M154.6,821.2L154.7,821.0L154.7,820.7M165.6,799.4L165.9,799.4L166.2,799.4M180.6,817.5L180.8,817.6L181.1,817.8M188.9,843.9L188.9,844.2L189.0,844.5M202.9,862.4L203.2,862.5L203.4,862.6M221.4,857.8L221.7,857.6L221.9,857.4M242.1,858.7L242.3,858.9L242.5,859.1M256.3,880.4L256.5,880.7L256.7,880.9M275.4,888.6L275.6,888.4L275.8,888.2M287.7,866.9L287.9,866.6L288.0,866.3M305.8,859.7L306.0,859.9L306.2,860.2M324.5,906.3L324.6,906.6L324.7,906.9M341.2,908.4L341.3,908.1L341.4,907.8M350.1,883.5L350.2,883.2L350.2,882.9M362.0,857.9L362.2,857.7L362.4,857.5M379.7,847.2L379.9,847.4L380.2,847.6M401.1,889.2L401.4,889.4L401.7,889.5M419.3,878.5L419.4,878.2L419.5,878.0M435.5,859.2L435.7,859.0L436.0,858.9M448.7,871.3L448.8,871.6L448.8,871.9M456.9,898.1L457.0,898.3L457.2,898.5M480.4,903.5L480.7,903.4L480.9,903.3M499.0,894.7L499.2,894.9L499.5,895.0M514.2,915.0L514.3,915.2L514.5,915.5M527.9,936.4L528.1,936.6L528.4,936.7M546.8,928.0L547.0,927.8L547.2,927.5M559.6,907.1L559.8,906.8L559.9,906.6M588.1,928.3L588.2,928.6L588.3,928.8M599.7,952.2L599.9,952.3L600.2,952.5M613.7,933.5L613.8,933.2L613.9,932.9M622.2,905.3L622.3,905.0L622.4,904.7M632.2,877.5L632.4,877.3L632.5,877.0M646.4,887.4L646.5,887.7L646.5,888.0M653.4,913.4L653.5,913.7L653.6,914.0M665.3,939.8L665.5,940.0L665.7,940.2M681.8,929.0L681.9,928.8L682.0,928.5M693.4,906.3L693.5,906.1L693.7,905.8" stroke="#ff0000" stroke-width="4.3" stroke-linecap="round"/>
<path d="M146.5,912.3L146.8,911.9L147.3,911.0L147.8,910.2L148.3,909.3L148.8,908.4L149.2,907.5L149.3,907.3M155.1,898.0L155.5,898.1L156.3,898.5L157.2,899.0L158.1,899.7L158.4,899.9M164.9,907.1L165.0,907.2L165.9,907.6L166.8,907.9L167.8,908.3L168.7,908.7L169.6,909.1L169.7,909.1M174.3,917.8L174.4,918.0L174.7,919.0L175.0,920.0L175.3,920.9L175.6,921.9L175.9,922.8L176.1,923.5M178.8,933.7L178.9,933.9L179.2,934.9L179.5,935.9L179.9,936.8L180.3,937.7L180.7,938.4M187.9,942.5L188.0,942.5L188.9,942.1L189.8,941.7L190.7,941.2L191.6,940.6L191.9,940.4M199.3,935.1L199.5,935.1L200.4,934.6L201.3,934.2L202.2,933.8L203.1,933.4L204.0,933.0L204.2,932.9M210.6,926.5L210.7,926.3L211.3,925.6L212.0,924.8L212.6,924.0L213.2,923.2L213.3,923.1M218.7,915.1L218.8,915.0L219.5,914.3L220.2,913.7L221.0,913.0L221.8,912.4L222.6,911.8L222.8,911.6M228.9,907.2L229.1,907.1L230.1,906.7L231.0,906.4L232.0,906.2L233.0,906.1L234.0,906.1L234.2,906.1M241.7,909.2L241.9,909.3L242.7,909.9L243.4,910.5L244.2,911.2L244.9,911.9L245.6,912.7L246.0,913.2M251.0,921.4L251.1,921.5L251.7,922.4L252.2,923.2L252.8,924.0L253.4,924.9L253.9,925.7L254.0,925.9M258.9,933.5L259.0,933.7L259.6,934.5L260.3,935.2L260.9,936.0L261.6,936.8L262.3,937.5L262.7,938.1M268.4,943.0L268.6,943.1L269.6,943.5L270.6,943.7L271.5,943.8L272.5,943.8L273.5,943.6L273.6,943.6M280.4,935.7L280.5,935.5L281.1,934.7L281.7,933.9L282.3,933.0L282.7,932.5M288.3,926.1L288.5,926.0L289.3,925.4L290.1,924.8L290.9,924.2L291.7,923.6L292.3,923.2M297.9,917.3L298.1,917.2L299.0,916.9L299.9,916.7L300.9,916.7L301.8,916.9L302.7,917.2L302.8,917.3M307.3,925.7L307.4,925.9L307.8,926.8L308.3,927.7L308.8,928.6L309.3,929.4L309.7,930.3L309.8,930.5M313.2,939.4L313.3,939.6L313.8,940.5L314.3,941.3L314.8,942.1L315.4,943.0L315.9,943.8L316.3,944.4M320.6,952.4L320.7,952.5L321.4,953.3L322.0,954.0L322.7,954.7L323.4,955.5L324.1,956.2L324.2,956.4M328.6,962.6L328.7,962.8L329.4,963.6L330.2,964.3L330.9,965.0L331.8,965.6L332.6,966.2L333.5,966.7L334.1,967.0M341.1,966.0L341.2,965.9L342.0,965.2L342.6,964.4L343.2,963.6L343.7,962.7L343.9,962.4M347.8,953.6L348.0,953.4L348.7,952.7L349.5,952.1L350.4,951.6L351.3,951.3L351.4,951.3M360.5,952.6L360.5,952.6L361.3,952.1L362.1,951.5L362.8,950.7L363.5,949.8L364.1,949.0M370.1,943.6L370.3,943.7L370.9,944.4L371.5,945.2L372.0,946.2L372.5,947.2L373.0,948.3L373.1,948.8M375.7,960.7L375.7,960.9L376.0,961.8L376.3,962.7L376.7,963.6L377.0,964.6L377.3,965.4M382.4,973.5L382.9,973.4L383.9,973.1L384.9,972.8L385.9,972.4L386.9,972.1L387.7,972.0M392.9,978.6L393.1,979.0L393.7,979.9L394.3,980.7L394.9,981.5L395.6,982.3L396.1,982.7M403.0,982.6L403.1,982.5L403.8,981.8L404.4,980.9L404.9,980.0L405.4,979.1L405.8,978.4M408.5,969.1L408.5,969.0L409.0,968.1L409.4,967.2L409.9,966.3L410.4,965.4L410.8,964.5L410.9,964.3M414.2,954.8L414.3,954.6L414.7,953.7L415.2,952.8L415.6,952.0L416.1,951.1L416.7,950.2L417.2,949.4L417.8,948.6L418.4,947.8L418.5,947.6M424.1,941.8L424.2,941.7L425.1,941.1L425.9,940.6L426.8,940.1L427.7,939.6L428.5,939.1L428.7,939.0M436.3,935.8L436.4,935.9L437.3,936.2L438.2,936.7L439.0,937.4L439.7,938.1L439.9,938.3M443.8,949.3L443.9,949.4L444.3,950.4L444.7,951.3L445.1,952.2L445.5,953.1L445.9,954.0L446.0,954.2M449.4,965.2L449.5,965.3L450.1,966.1L450.7,966.8L451.4,967.6L452.1,968.3L452.3,968.5M458.1,975.4L458.3,975.5L459.1,976.1L459.9,976.7L460.7,977.3L461.5,977.9L462.1,978.4M468.9,982.9L468.9,982.9L469.8,982.5L470.6,981.9L471.4,981.2L472.2,980.4L472.9,979.5L473.1,979.2M477.3,969.9L477.4,969.8L477.9,968.9L478.4,968.1L478.9,967.2L479.5,966.4L480.0,965.5L480.1,965.4M484.5,955.8L484.6,955.6L485.2,954.8L485.8,954.0L486.4,953.2L487.1,952.5L487.5,951.9M494.2,945.7L494.4,945.6L495.3,945.3L496.3,945.1L497.3,945.0L498.2,945.1L498.9,945.2M505.8,950.9L506.0,951.1L506.8,951.8L507.5,952.5L508.2,953.2L508.9,953.9L509.6,954.6L510.0,955.1M514.5,963.5L514.6,963.7L515.2,964.4L515.9,965.2L516.6,965.9L517.3,966.7L517.9,967.4L518.0,967.6M522.4,976.0L522.5,976.1L523.2,976.8L523.9,977.5L524.6,978.2L525.4,978.9L525.9,979.4M532.7,985.4L532.9,985.5L533.9,985.8L534.8,985.9L535.8,986.0L536.8,985.9L537.8,985.7L537.9,985.7M544.7,979.0L544.8,978.8L545.6,978.1L546.3,977.4L547.0,976.7L547.6,976.0L547.8,975.8M552.5,967.7L552.6,967.6L553.4,966.9L554.2,966.3L555.0,965.7L555.8,965.1L556.3,964.7M562.0,958.2L562.1,958.1L562.9,957.4L563.7,956.8L564.6,956.2L565.5,955.7L566.4,955.3L566.6,955.2M574.5,955.9L574.7,956.0L575.5,956.5L576.3,957.2L577.1,957.9L577.8,958.6L578.5,959.4L578.6,959.5M582.9,969.7L583.0,969.9L583.5,970.7L584.0,971.6L584.6,972.4L585.1,973.3L585.6,974.1L585.7,974.3M588.8,983.8L588.8,984.0L589.2,984.9L589.7,985.8L590.2,986.7L590.7,987.6L591.2,988.4L591.7,989.3L591.8,989.5M597.4,996.5L597.6,996.6L598.5,997.0L599.4,997.3L600.4,997.6L601.4,997.8L602.4,997.9L603.4,998.0L603.6,998.0M611.1,993.3L611.2,993.1L611.9,992.3L612.5,991.5L613.1,990.7L613.6,989.9L614.1,989.0L614.2,988.8M617.8,978.9L617.9,978.7L618.2,977.8L618.5,976.8L618.9,975.9L619.2,974.9L619.6,974.0L620.0,973.0L620.3,972.3M625.8,967.0L625.8,967.0L626.7,967.3L627.6,967.8L628.5,968.4L629.3,969.2L630.1,970.0L630.8,970.7M635.3,976.8L635.3,976.9L636.2,977.4L637.1,977.8L638.0,978.2L639.0,978.5L639.7,978.7M647.0,981.1L647.2,981.2L648.1,981.7L649.0,982.2L649.8,982.7L650.6,983.4L651.3,984.0L651.8,984.5M656.1,991.9L656.2,992.1L656.7,993.0L657.1,993.9L657.6,994.7L658.1,995.6L658.6,996.5L659.1,997.4L659.2,997.5M672.7,1001.1L672.8,1000.9L673.3,1000.0L673.8,999.1L674.3,998.3L674.8,997.4L674.9,997.2M680.2,988.7L680.3,988.6L681.0,987.9L681.8,987.3L682.6,986.7L683.5,986.1L684.3,985.6L684.9,985.2M690.7,981.1L690.9,980.9L691.7,980.3L692.5,979.7L693.3,979.1L694.1,978.5L694.9,977.9L695.7,977.3L695.8,977.3" stroke="#000000" stroke-width="4.6" stroke-linecap="round"/>
</g>
<g fill="none" stroke-linecap="round">
<path d="M475.0,616.6H522.9" stroke="#008080" stroke-width="4.4"/>
<path d="M475.0,643.1H493.3M505.0,643.1H507.6M519.3,643.1H522.9" stroke="#0000ff" stroke-width="4.4"/>
<path d="M475.05,669.4H485.55M503.25,669.4H513.75" stroke="#ff0000" stroke-width="4.5"/>
<path d="M494.2,669.4H494.6M522.4,669.4H522.8" stroke="#ff0000" stroke-width="4.7"/>
<path d="M475.0,695.8H480.6M490.9,695.8H496.7M507.1,695.8H512.9" stroke="#000" stroke-width="4.4"/>
</g>
<g class="txt">
<text class="tk" x="191.5" y="1032.7" text-anchor="middle">36</text>
<text class="tk" x="247.5" y="1032.7" text-anchor="middle">37</text>
<text class="tk" x="303.5" y="1032.7" text-anchor="middle">38</text>
<text class="tk" x="359.5" y="1032.7" text-anchor="middle">39</text>
<text class="tk" x="415.5" y="1032.7" text-anchor="middle">40</text>
<text class="tk" x="471.5" y="1032.7" text-anchor="middle">41</text>
<text class="tk" x="527.5" y="1032.7" text-anchor="middle">42</text>
<text class="tk" x="583.5" y="1032.7" text-anchor="middle">43</text>
<text class="tk" x="639.5" y="1032.7" text-anchor="middle">44</text>
<text class="tk" x="695.5" y="1032.7" text-anchor="middle">45</text>
<text class="tk" x="138.8" y="1012.2" text-anchor="end">5</text>
<text class="tk" x="138.8" y="942.8" text-anchor="end">6</text>
<text class="tk" x="138.8" y="873.4" text-anchor="end">7</text>
<text class="tk" x="138.8" y="804.0" text-anchor="end">8</text>
<text class="tk" x="138.8" y="734.7" text-anchor="end">9</text>
<text class="tk" x="138.8" y="665.3" text-anchor="end">10</text>
<text class="tk" x="138.0" y="594.9" text-anchor="end">11</text>
<text class="ti" x="142.3" y="577.2">x10<tspan font-size="14px" dy="-13.5">3</tspan></text>
<text class="ti" x="426.8" y="1073.7" text-anchor="middle">Channel-closing number R</text>
<text class="ti" transform="translate(89.1,893.8) rotate(-90)">ΔS x R<tspan font-size="13.5px" dy="-12.6">2</tspan><tspan dy="12.6"> (arb. units)</tspan></text>
<text class="lg" x="528.6" y="623.5">I=320 TW/cm<tspan font-size="12.5px" dy="-10">2</tspan></text>
<text class="lg" x="544.3" y="649.8">310</text>
<text class="lg" x="544.3" y="676.1">300</text>
<text class="lg" x="544.3" y="702.4">290</text>
</g>
</svg>
</body></html>
